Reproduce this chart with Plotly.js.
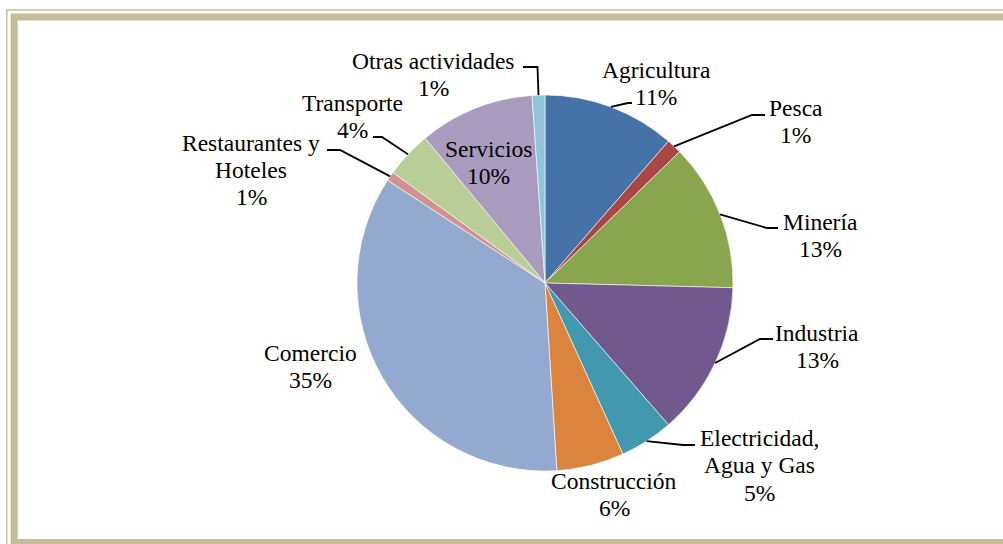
<!DOCTYPE html>
<html>
<head>
<meta charset="utf-8">
<script src="https://cdn.plot.ly/plotly-3.0.1.min.js"></script>
<style>
  html, body { margin: 0; padding: 0; background: #ffffff; }
  #chart { width: 1003px; height: 544px; }
</style>
</head>
<body>
<div id="chart"></div>
<script>
// ---- data ----
var categories = ['Agricultura', 'Pesca', 'Minería', 'Industria', 'Electricidad,<br>Agua y Gas',
                  'Construcción', 'Comercio', 'Restaurantes y<br>Hoteles', 'Transporte', 'Servicios', 'Otras actividades'];
var shares = [11.4, 1.3, 12.7, 13.2, 4.6, 5.8, 35.2, 0.8, 4.0, 9.9, 1.1];
var sliceColors = ['#4572A7', '#AA4643', '#89A54E', '#71588F', '#4198AF', '#DB843D',
                   '#93A9CF', '#D19392', '#B9CD96', '#A99BBD', '#92C5D8'];

// ---- layout (pixels) ----
var W = 1003, H = 544;
var CX = 545, CY = 283, R = 188;
var FONT = 'Liberation Serif';
var FS = 23.5, LINE_GAP = 27.3;
// first-line centre of each label
var labelPos = [[656, 70], [795.5, 107.5], [820, 222], [817, 333], [759, 438],
                [614, 481], [310, 353], [251, 142.5], [352, 102.5], [488, 149], [433, 61]];
// leader line: elbow and end point (null = no leader)
var leaderPts = [
  [[628, 103], [632, 103]],
  [[752, 115], [765, 115]],
  [[767, 228], [778, 228]],
  [[760, 339], [773, 339]],
  [[683, 445], [695, 445]],
  null,
  null,
  [[340, 150], [327, 150]],
  [[382, 137], [373, 137]],
  null,
  [[537.5, 67], [523, 67]]
];

function px(x) { return x / W; }
function py(y) { return 1 - y / H; }

var total = shares.reduce(function (a, b) { return a + b; }, 0);

var annotations = [];
var shapes = [];
var cum = 0;
for (var i = 0; i < shares.length; i++) {
  var pct = Math.round(shares[i] / total * 100) + '%';
  var lines = categories[i].split('<br>').concat([pct]);
  for (var k = 0; k < lines.length; k++) {
    annotations.push({
      xref: 'paper', yref: 'paper',
      x: px(labelPos[i][0]), y: py(labelPos[i][1] + k * LINE_GAP),
      xanchor: 'center', yanchor: 'middle',
      text: lines[k], showarrow: false,
      font: { family: FONT, size: FS, color: '#000000' }
    });
  }
  var mid = (cum + shares[i] / 2) / total * 2 * Math.PI;
  cum += shares[i];
  if (leaderPts[i]) {
    var ax = CX + R * Math.sin(mid), ay = CY - R * Math.cos(mid);
    var e = leaderPts[i][0], f = leaderPts[i][1];
    shapes.push({
      type: 'path', xref: 'paper', yref: 'paper',
      path: 'M ' + px(ax) + ' ' + py(ay) + ' L ' + px(e[0]) + ' ' + py(e[1]) + ' L ' + px(f[0]) + ' ' + py(f[1]),
      line: { color: '#000000', width: 1.8 }
    });
  }
}

// frame
var TAN = '#C4BD97';
shapes.push({ type: 'rect', xref: 'paper', yref: 'paper', layer: 'above',
  x0: px(6.8), y0: py(570), x1: px(1030), y1: py(10), line: { color: TAN, width: 1.4 } });
shapes.push({ type: 'rect', xref: 'paper', yref: 'paper', layer: 'above',
  x0: px(14.2), y0: py(542.5), x1: px(1020), y1: py(17), line: { color: TAN, width: 7 } });

var trace = {
  type: 'pie',
  labels: categories,
  values: shares,
  sort: false,
  direction: 'clockwise',
  rotation: 0,
  textinfo: 'none',
  hoverinfo: 'skip',
  marker: { colors: sliceColors, line: { color: '#ffffff', width: 0.6 } },
  domain: { x: [px(CX - R), px(CX + R)], y: [py(CY + R), py(CY - R)] },
  showlegend: false
};

Plotly.newPlot('chart', [trace], {
  width: W, height: H,
  margin: { l: 0, r: 0, t: 0, b: 0 },
  paper_bgcolor: '#ffffff',
  showlegend: false,
  annotations: annotations,
  shapes: shapes
}, { displayModeBar: false, staticPlot: true });
</script>
</body>
</html>
